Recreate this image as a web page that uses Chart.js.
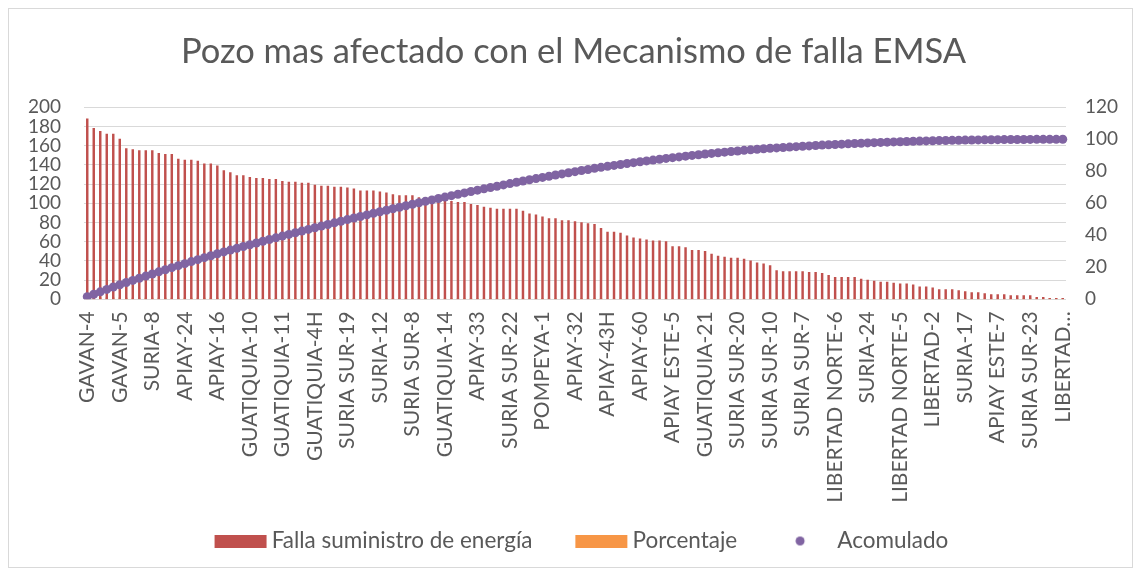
<!DOCTYPE html>
<html>
<head>
<meta charset="utf-8">
<script src="https://cdn.jsdelivr.net/npm/chart.js@4.4.1/dist/chart.umd.min.js"></script>
<style>
html,body{margin:0;padding:0;background:#fff;}
#wrap{position:relative;width:1141px;height:573px;}
</style>
</head>
<body>
<div id="wrap"><canvas id="paretoChart"></canvas></div>
<script>
// visible category labels (one every 5 wells)
const shownLabels=["GAVAN-4","GAVAN-5","SURIA-8","APIAY-24","APIAY-16","GUATIQUIA-10","GUATIQUIA-11","GUATIQUIA-4H",
"SURIA SUR-19","SURIA-12","SURIA SUR-8","GUATIQUIA-14","APIAY-33","SURIA SUR-22","POMPEYA-1","APIAY-32",
"APIAY-43H","APIAY-60","APIAY ESTE-5","GUATIQUIA-21","SURIA SUR-20","SURIA SUR-10","SURIA SUR-7",
"LIBERTAD NORTE-6","SURIA-24","LIBERTAD NORTE-5","LIBERTAD-2","SURIA-17","APIAY ESTE-7","SURIA SUR-23","LIBERTAD…"];

const falla=[188,178,175,172,172,167,157,156,155,155,
155,152,151,151,146,145,145,144,141,141,
139,134,132,129,129,127,126,126,125,125,
123,122,122,121,121,119,118,118,117,117,
116,115,113,113,113,112,111,109,108,108,
108,106,104,103,102,102,102,101,101,99,
98,96,95,94,94,94,94,92,89,88,
86,84,84,82,82,81,80,79,78,74,
70,70,69,66,64,63,62,61,61,60,
55,55,54,51,51,50,47,45,44,43,
43,42,40,38,37,35,30,29,29,29,
29,28,28,27,25,23,23,23,23,21,
20,19,18,18,17,16,16,15,13,13,
12,10,10,10,9,8,7,7,6,5,
5,5,4,4,4,4,2,2,1,1,1];

const porcentaje=[1.63,1.54,1.52,1.49,1.49,1.45,1.36,1.35,1.34,1.34,
1.34,1.32,1.31,1.31,1.26,1.26,1.26,1.25,1.22,1.22,
1.20,1.16,1.14,1.12,1.12,1.10,1.09,1.09,1.08,1.08,
1.06,1.06,1.06,1.05,1.05,1.03,1.02,1.02,1.01,1.01,
1.00,1.00,0.98,0.98,0.98,0.97,0.96,0.94,0.93,0.93,
0.93,0.92,0.90,0.89,0.88,0.88,0.88,0.87,0.87,0.86,
0.85,0.83,0.82,0.81,0.81,0.81,0.81,0.80,0.77,0.76,
0.74,0.73,0.73,0.71,0.71,0.70,0.69,0.68,0.68,0.64,
0.61,0.61,0.60,0.57,0.55,0.55,0.54,0.53,0.53,0.52,
0.48,0.48,0.47,0.44,0.44,0.43,0.41,0.39,0.38,0.37,
0.37,0.36,0.35,0.33,0.32,0.30,0.26,0.25,0.25,0.25,
0.25,0.24,0.24,0.23,0.22,0.20,0.20,0.20,0.20,0.18,
0.17,0.16,0.16,0.16,0.15,0.14,0.14,0.13,0.11,0.11,
0.10,0.09,0.09,0.09,0.08,0.07,0.06,0.06,0.05,0.04,
0.04,0.04,0.03,0.03,0.03,0.03,0.02,0.02,0.01,0.01,0.01];

const acomulado=[1.63,3.17,4.68,6.17,7.66,9.11,10.47,11.82,13.16,14.50,
15.84,17.16,18.47,19.77,21.04,22.29,23.55,24.79,26.02,27.24,
28.44,29.60,30.74,31.86,32.98,34.08,35.17,36.26,37.34,38.42,
39.49,40.54,41.60,42.65,43.69,44.72,45.75,46.77,47.78,48.79,
49.80,50.79,51.77,52.75,53.73,54.70,55.66,56.60,57.54,58.47,
59.41,60.32,61.22,62.12,63.00,63.88,64.77,65.64,66.51,67.37,
68.22,69.05,69.87,70.69,71.50,72.31,73.13,73.93,74.70,75.46,
76.20,76.93,77.66,78.37,79.08,79.78,80.47,81.15,81.83,82.47,
83.08,83.68,84.28,84.85,85.40,85.95,86.49,87.01,87.54,88.06,
88.54,89.01,89.48,89.92,90.36,90.80,91.20,91.59,91.97,92.35,
92.72,93.08,93.43,93.76,94.08,94.38,94.64,94.89,95.14,95.39,
95.65,95.89,96.13,96.36,96.58,96.78,96.98,97.18,97.38,97.56,
97.73,97.90,98.05,98.21,98.36,98.49,98.63,98.76,98.87,98.99,
99.09,99.18,99.26,99.35,99.43,99.50,99.56,99.62,99.67,99.71,
99.76,99.80,99.84,99.87,99.90,99.94,99.96,99.97,99.98,99.99,100];

const categories=falla.map((v,i)=> i%5===0 ? shownLabels[i/5] : "");

const RED="#C0504D", ORANGE="#F79646", PURPLE="#8064A2", GREY="#595959", GRID="#D9D9D9";
const FONT="Lato, 'Open Sans', sans-serif";

// legend keys drawn on small canvases (blank left part gives the gap between items)
function keyRect(color){
const c=document.createElement("canvas");
c.width=104;c.height=13;
const x=c.getContext("2d");
x.fillStyle=color;x.fillRect(43,0,52,13);
return c;
}
function keyDot(color){
const c=document.createElement("canvas");
c.width=104;c.height=13;
const x=c.getContext("2d");
x.fillStyle=color;x.beginPath();x.arc(63,6.5,4.5,0,Math.PI*2);x.fill();
return c;
}
const legendKeys=[keyRect(RED),keyRect(ORANGE),keyDot(PURPLE)];

const frame={
id:"frame",
beforeDraw(chart){
const c=chart.ctx;
c.save();
c.fillStyle="#fff";c.fillRect(0,0,chart.width,chart.height);
c.strokeStyle=GRID;c.lineWidth=1;
c.strokeRect(8.5,8.5,1124,559);
c.restore();
},
afterLayout(chart){
// title sits a little right of the plot centre in the original
if(chart.titleBlock){chart.titleBlock.left+=6;chart.titleBlock.right+=6;}
}
};

new Chart(document.getElementById("paretoChart"),{
type:"bar",
data:{
labels:categories,
datasets:[{
label:"Falla suministro de energía",
data:falla,
backgroundColor:RED,
barThickness:1.8,
grouped:false,
yAxisID:"y",
order:1
},{
label:"Porcentaje",
data:porcentaje,
backgroundColor:ORANGE,
barThickness:1.8,
grouped:false,
yAxisID:"y",
order:2
},{
type:"line",
label:"Acomulado",
data:acomulado,
showLine:false,
pointRadius:4.5,
pointBorderWidth:0,
pointBackgroundColor:PURPLE,
pointBorderColor:PURPLE,
yAxisID:"y1",
order:0
}]
},
options:{
responsive:true,
maintainAspectRatio:false,
animation:false,
layout:{padding:{left:0,right:6,top:0,bottom:10.75}},
plugins:{
title:{
display:true,
text:"Pozo mas afectado con el Mecanismo de falla EMSA",
color:GREY,
font:{family:FONT,size:34.5,weight:"normal"},
padding:{top:31.3,bottom:34.6}
},
legend:{
position:"bottom",
labels:{
color:GREY,
font:{family:FONT,size:22.5},
usePointStyle:true,
pointStyleWidth:73.75,
boxHeight:13,
padding:15,
generateLabels(chart){
return chart.data.datasets.map((ds,i)=>({
text:ds.label,
pointStyle:legendKeys[i],
fillStyle:"#fff",
strokeStyle:"#fff",
lineWidth:0,
fontColor:GREY,
hidden:false,
datasetIndex:i
}));
}
}
},
tooltip:{enabled:false}
},
scales:{
x:{
grid:{display:false},
border:{display:false},
afterFit(scale){scale.height=215.45;},
ticks:{
autoSkip:false,
maxRotation:90,
minRotation:90,
padding:4,
color:GREY,
font:{family:FONT,size:21}
}
},
y:{
position:"left",
min:0,
max:200,
afterFit(scale){scale.width=84;},
grid:{color:GRID,drawTicks:false},
border:{display:false},
ticks:{stepSize:20,autoSkip:false,padding:23,color:GREY,font:{family:FONT,size:19}}
},
y1:{
position:"right",
min:0,
max:120,
afterFit(scale){scale.width=69;},
grid:{drawOnChartArea:false,drawTicks:false},
border:{display:false},
ticks:{stepSize:20,autoSkip:false,padding:19,color:GREY,font:{family:FONT,size:19}}
}
}
},
plugins:[frame]
});
</script>
</body>
</html>
